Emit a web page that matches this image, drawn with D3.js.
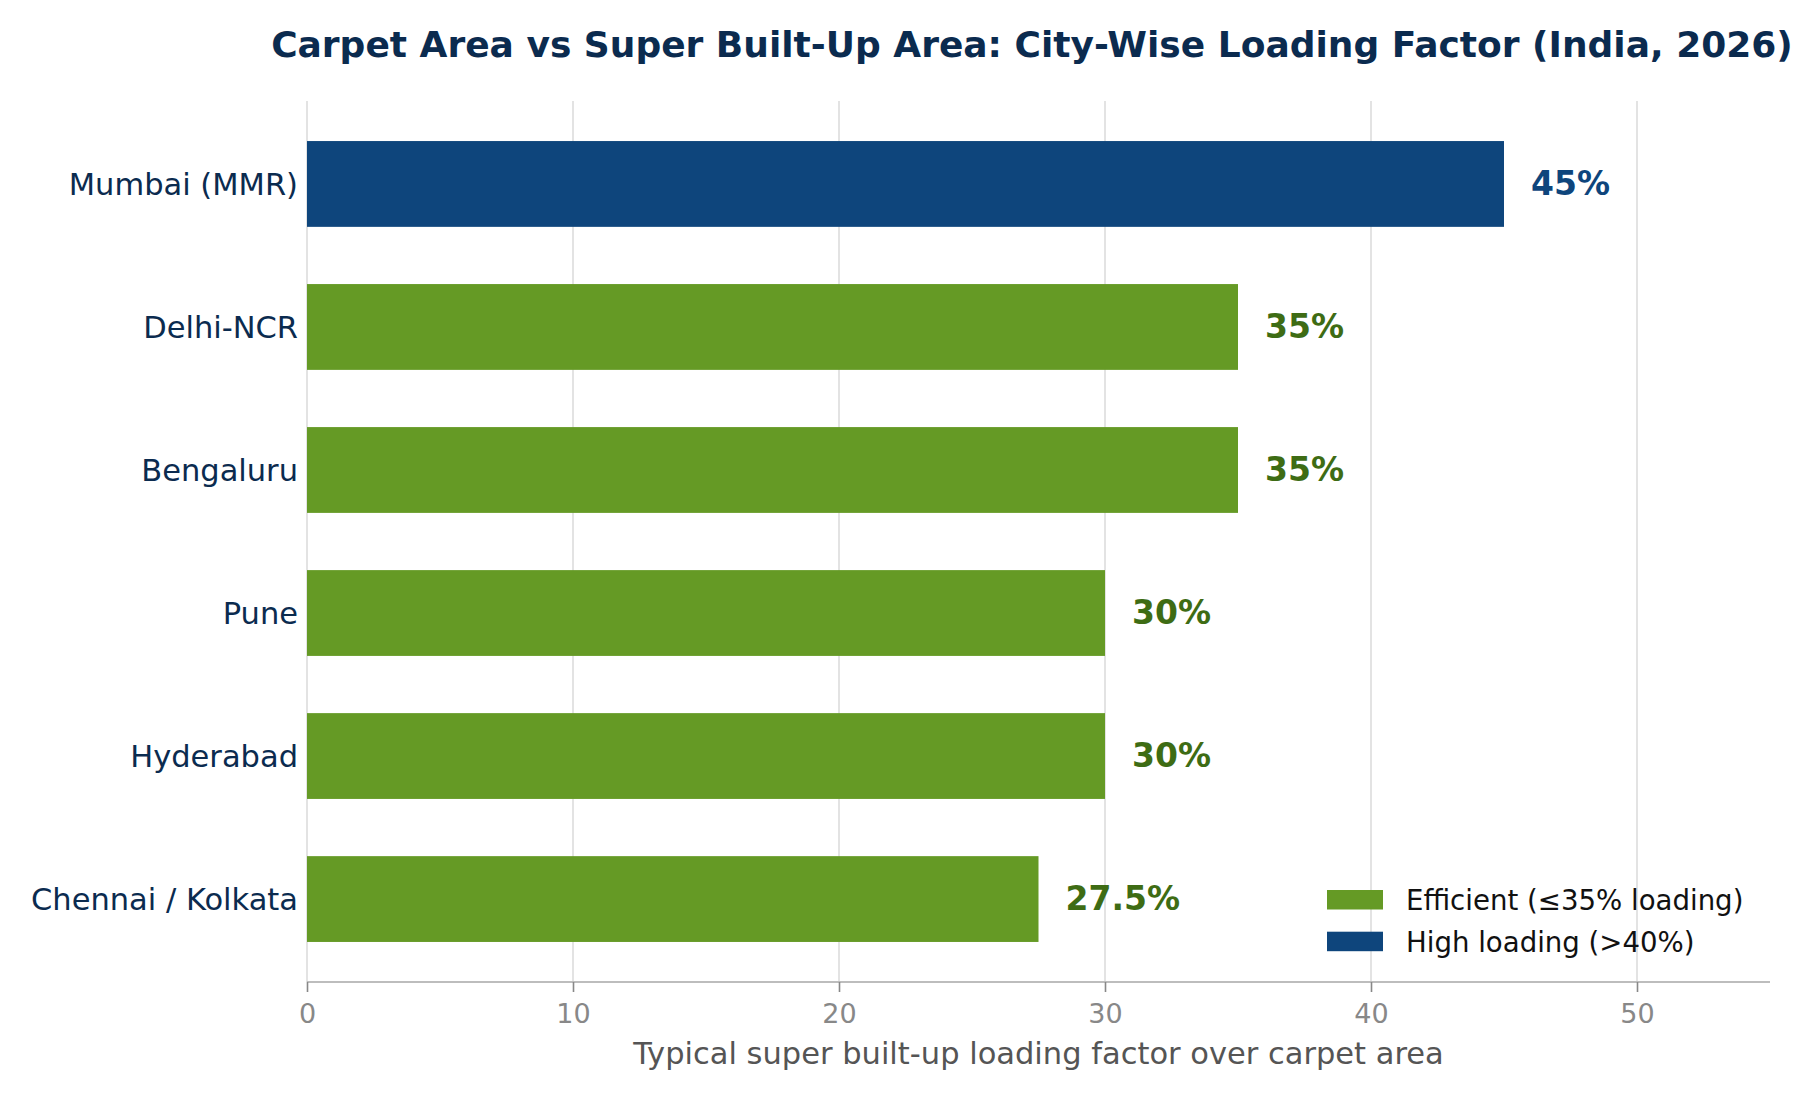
<!DOCTYPE html>
<html>
<head>
<meta charset="utf-8">
<script src="https://cdn.jsdelivr.net/npm/d3@7"></script>
<style>
  body { margin: 0; background: #fff; }
  text { font-family: "DejaVu Sans", sans-serif; }
</style>
</head>
<body>
<svg id="chart" width="1800" height="1100"></svg>
<script>
// city-wise loading factor, top to bottom as drawn
const cities = ["Mumbai (MMR)", "Delhi-NCR", "Bengaluru", "Pune", "Hyderabad", "Chennai / Kolkata"];
const loading = [45, 35, 35, 30, 30, 27.5];
const valueLabels = ["45%", "35%", "35%", "30%", "30%", "27.5%"];
const xTicks = [0, 10, 20, 30, 40, 50];
const legendItems = ["Efficient (\u226435% loading)", "High loading (>40%)"];

const blue = "#0e457c", green = "#659a25";
const blueText = "#0e457c", greenText = "#3e6c14";
const navy = "#0b2b4f";

const svg = d3.select("#chart");
const plotLeft = 307, plotRight = 1770, plotTop = 101, plotBottom = 982;

const x = d3.scaleLinear().domain([0, 55]).range([plotLeft, plotRight]);
// bars are 0.6 wide on an index scale with matplotlib-like margins
const y = d3.scaleLinear().domain([-0.58, cities.length - 1 + 0.58]).range([plotTop, plotBottom]);
const barH = y(0.6) - y(0);

// vertical grid
svg.append("g")
   .selectAll("line")
   .data(xTicks)
   .enter()
   .append("line")
   .attr("x1", d => x(d)).attr("x2", d => x(d))
   .attr("y1", plotTop).attr("y2", plotBottom)
   .style("stroke", "#dcdcdc")
   .style("stroke-width", 1.6);

// bars
svg.append("g")
   .selectAll("rect")
   .data(loading)
   .enter()
   .append("rect")
   .attr("x", x(0))
   .attr("y", (d, i) => y(i) - barH / 2)
   .attr("width", d => x(d) - x(0))
   .attr("height", barH)
   .style("fill", d => d > 40 ? blue : green);

// value labels
svg.append("g")
   .selectAll("text")
   .data(loading)
   .enter()
   .append("text")
   .attr("x", d => x(d) + 27)
   .attr("y", (d, i) => y(i) - 1)
   .attr("dy", "0.36em")
   .style("font-size", "33px")
   .style("font-weight", "bold")
   .style("fill", d => d > 40 ? blueText : greenText)
   .text((d, i) => valueLabels[i]);

// y category labels
svg.append("g")
   .selectAll("text")
   .data(cities)
   .enter()
   .append("text")
   .attr("x", plotLeft - 9)
   .attr("y", (d, i) => y(i))
   .attr("dy", "0.36em")
   .attr("text-anchor", "end")
   .style("font-size", "30.5px")
   .style("fill", navy)
   .text(d => d);

// x axis
const xAxis = svg.append("g")
   .attr("transform", `translate(0,${plotBottom})`)
   .call(d3.axisBottom(x).tickValues(xTicks).tickSize(10).tickPadding(12));
xAxis.select(".domain").style("stroke", "#bdbdbd").style("stroke-width", 2.2)
     .attr("d", `M${plotLeft},0H${plotRight}`);
xAxis.selectAll(".tick line").style("stroke", "#888").style("stroke-width", 1.6);
xAxis.selectAll(".tick text")
     .style("font-family", "DejaVu Sans, sans-serif")
     .style("font-size", "27px")
     .style("fill", "#888");

// axis title
svg.append("text")
   .attr("x", (plotLeft + plotRight) / 2)
   .attr("y", 1064)
   .attr("text-anchor", "middle")
   .style("font-size", "30.5px")
   .style("fill", "#555")
   .text("Typical super built-up loading factor over carpet area");

// chart title (nudged left so it stays inside the frame)
svg.append("text")
   .attr("x", 1032)
   .attr("y", 57)
   .attr("text-anchor", "middle")
   .style("font-size", "36px")
   .style("font-weight", "bold")
   .style("fill", navy)
   .text("Carpet Area vs Super Built-Up Area: City-Wise Loading Factor (India, 2026)");

// legend
const legend = svg.append("g").attr("transform", "translate(1327,890)");
const leg = legend.selectAll("g")
   .data(legendItems)
   .enter()
   .append("g")
   .attr("transform", (d, i) => `translate(0,${i * 41.7})`);
leg.append("rect")
   .attr("width", 56).attr("height", 19.5)
   .style("fill", (d, i) => i === 0 ? green : blue);
leg.append("text")
   .attr("x", 79)
   .attr("y", 10)
   .attr("dy", "0.36em")
   .style("font-size", "27.6px")
   .style("fill", "#111")
   .text(d => d);
</script>
</body>
</html>
